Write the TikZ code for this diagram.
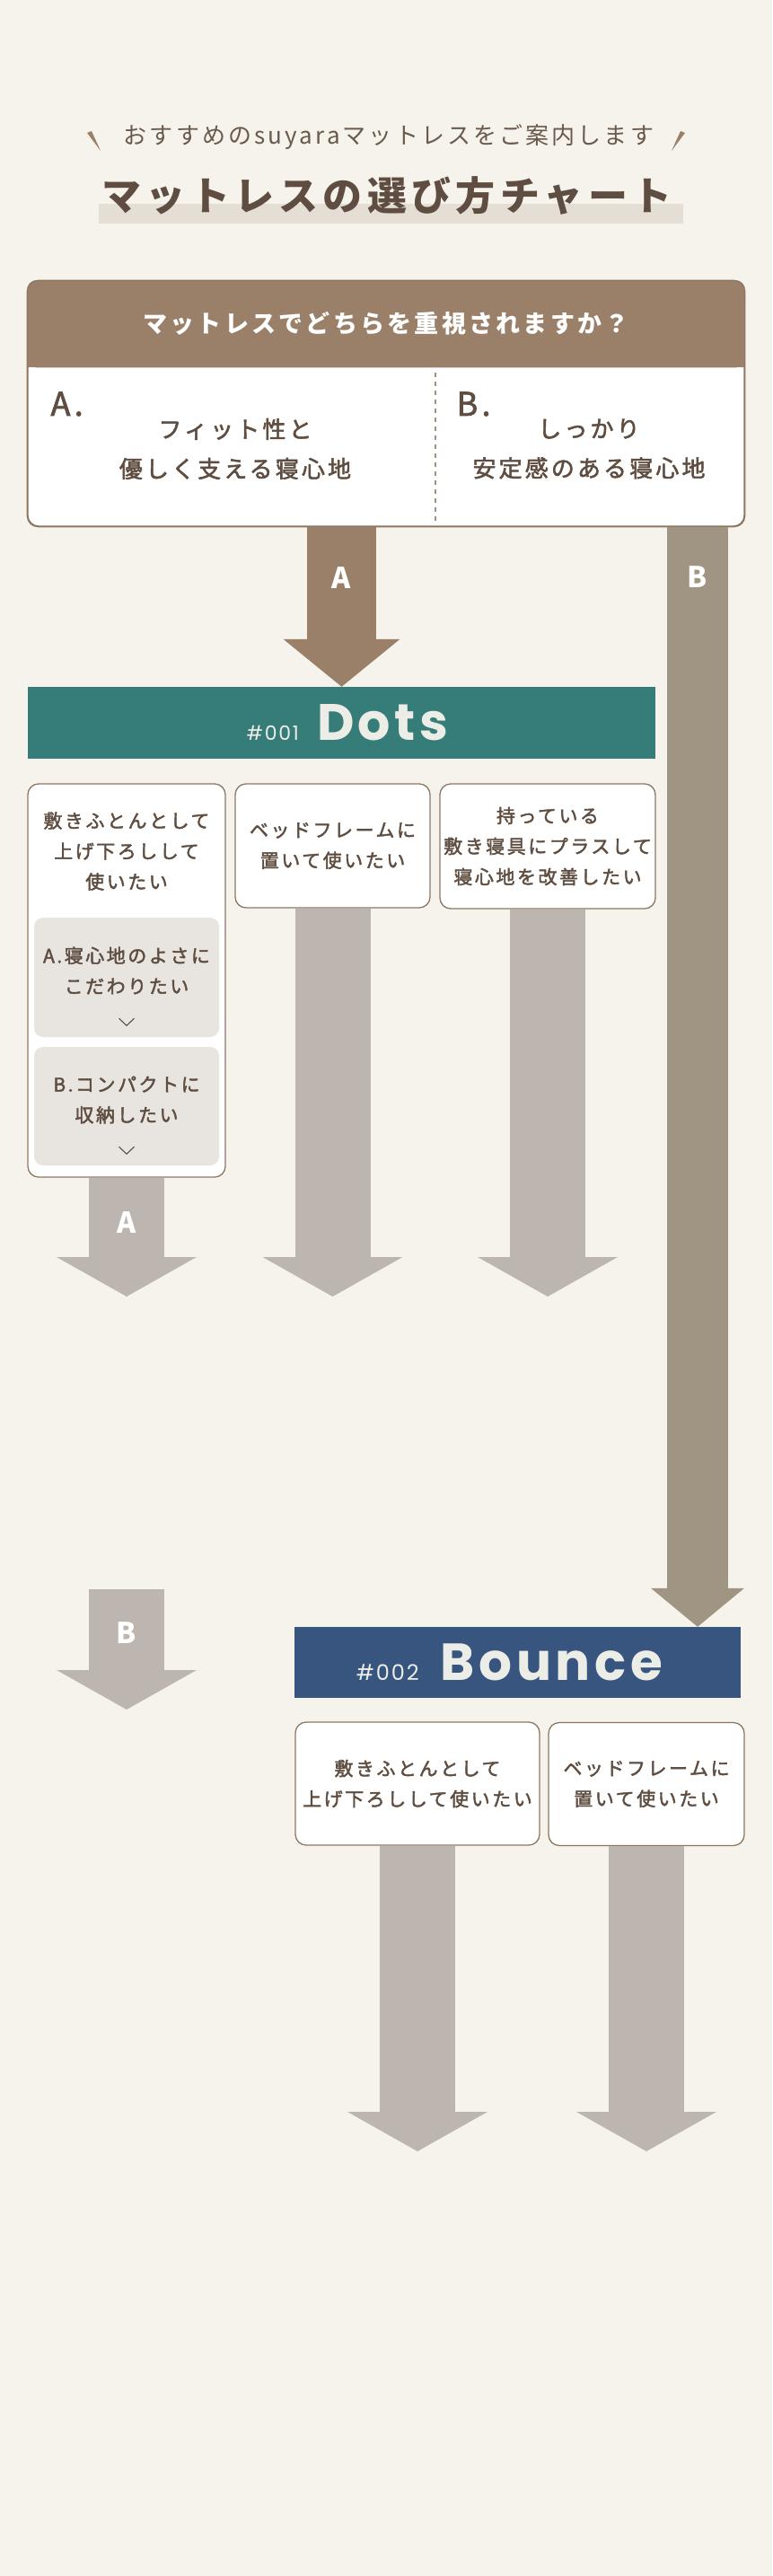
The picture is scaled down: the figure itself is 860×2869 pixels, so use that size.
\documentclass[tikz,border=0pt]{standalone}
\usepackage{fontspec}
\newfontfamily\jp{Noto Sans CJK JP}[LetterSpace=12]
\newfontfamily\jpm{Noto Sans CJK JP}[LetterSpace=12,FakeBold=2]
\newfontfamily\pop{Poppins}[LetterSpace=8]
\usetikzlibrary{arrows.meta,calc}
\definecolor{bgcol}{HTML}{F6F3EC}
\definecolor{txt}{HTML}{5E4D40}
\definecolor{subtxt}{HTML}{6A5A4D}
\definecolor{hilite}{HTML}{E4DED4}
\definecolor{hdrbrown}{HTML}{9A8069}
\definecolor{cardline}{HTML}{8D7763}
\definecolor{divline}{HTML}{A0907F}
\definecolor{barB}{HTML}{A09483}
\definecolor{arrgray}{HTML}{BDB6B0}
\definecolor{subgray}{HTML}{E8E5E1}
\definecolor{teal}{HTML}{367C79}
\definecolor{navy}{HTML}{37557E}
\definecolor{bandtxt}{HTML}{ECEDE6}
\begin{document}
\begin{tikzpicture}[x=1pt,y=-1pt,
    card/.style={draw=cardline, line width=1.3pt, fill=white, rounded corners=12pt, inner sep=0pt, align=center, text=txt, font=\jpm\fontsize{21}{34}\selectfont},
    cardtext/.style={align=center, text=txt, font=\jpm\fontsize{21}{34}\selectfont},
    subbox/.style={fill=subgray, rounded corners=10pt, inner sep=0pt, minimum width=206pt},
    band/.style={inner sep=0pt, text=bandtxt},
    lbl/.style={text=white, font=\jp\bfseries\fontsize{32}{32}\selectfont},
    chev/.style={draw=txt, line width=1.1pt},
    arrA/.style={draw=hdrbrown, line width=77pt, -{Triangle[width=130pt,length=53pt,line width=0pt]}},
    arrB/.style={draw=barB, line width=68pt, -{Triangle[width=104pt,length=43pt,line width=0pt]}},
    arrG/.style={draw=arrgray, line width=84pt, -{Triangle[width=156pt,length=44pt,line width=0pt]}}]

    \fill[bgcol] (0,0) rectangle (860,2869);

    %heading
    \fill[hdrbrown] (97,148) -- (102,146) -- (112,168) -- cycle;
    \fill[hdrbrown] (763,148) -- (758,146) -- (748,168) -- cycle;
    \node[text=subtxt, font=\jp\fontsize{26}{26}\selectfont] (sub) at (433,153) {おすすめのsuyaraマットレスをご案内します};
    \fill[hilite] (110,227) rectangle (761,249);
    \node[text=txt, font=\jp\bfseries\fontsize{44}{44}\selectfont] (title) at (431,218) {マットレスの選び方チャート};

    %question
    \node[card, minimum width=798pt, minimum height=273pt] (q) at (430,449.5) {};
    \fill[hdrbrown, rounded corners=10pt] (q.north west) rectangle ([yshift=-97pt]q.north east);
    \fill[hdrbrown] ([yshift=-50pt]q.north west) rectangle ([yshift=-97pt]q.north east);
    \draw[cardline, line width=1.3pt, rounded corners=12pt] (q.north west) rectangle (q.south east);
    \node[text=white, font=\jp\bfseries\fontsize{27}{27}\selectfont] (qh) at ([yshift=-48pt]q.north) {マットレスでどちらを重視されますか？};
    \draw[divline, line width=1.3pt, dash pattern=on 5pt off 5pt] (485,415) -- (485,582);
    \node[anchor=west, text=txt, font=\jpm\fontsize{36}{36}\selectfont] (qa) at (53,450) {A.};
    \node[cardtext, font=\jpm\fontsize{26}{44}\selectfont] (qta) at (262,500) {フィット性と\\優しく支える寝心地};
    \node[anchor=west, text=txt, font=\jpm\fontsize{36}{36}\selectfont] (qb) at (505,450) {B.};
    \node[cardtext, font=\jpm\fontsize{26}{44}\selectfont] (qtb) at (656,500) {しっかり\\安定感のある寝心地};

    %dots
    \node[band, fill=teal, minimum width=699pt, minimum height=80pt] (dots) at (380.5,805) {};
    \node[band] (dotst) at (387,805)
        {{\pop\fontsize{22}{22}\selectfont\#001}\hspace{20pt}{\pop\bfseries\fontsize{57}{57}\selectfont Dots}};
    \draw[arrA] (q.south -| dots.north) -- (dots.north);
    \node[lbl] (la) at (380,644) {A};

    \node[card, minimum width=220pt, minimum height=438pt] (c1) at (141,1092) {};
    \node[cardtext] (c1t) at (141,948) {敷きふとんとして\\上げ下ろしして\\使いたい};
    \node[subbox, minimum height=133pt] (sa) at (141,1088.5) {};
    \node[cardtext] (sat) at (141,1081) {A.寝心地のよさに\\こだわりたい};
    \draw[chev] ($(sa.south)+(-8.5,-21)$) -- ++(8.5,8) -- ++(8.5,-8);
    \node[subbox, minimum height=132pt] (sb) at (141,1232) {};
    \node[cardtext] (sbt) at (141,1225) {B.コンパクトに\\収納したい};
    \draw[chev] ($(sb.south)+(-8.5,-21)$) -- ++(8.5,8) -- ++(8.5,-8);
    \node[card, minimum width=217pt, minimum height=138pt] (c2) at (370.5,942) {ベッドフレームに\\置いて使いたい};
    \node[card, minimum width=240pt, minimum height=139pt] (c3) at (610,942.5) {持っている\\敷き寝具にプラスして\\寝心地を改善したい};

    \coordinate (tipA) at (0,1444);
    \draw[arrG] (c1.south) -- (c1.south |- tipA);
    \draw[arrG] (c2.south) -- (c2.south |- tipA);
    \draw[arrG] (c3.south) -- (c3.south |- tipA);
    \node[lbl] (la2) at (141,1362) {A};

    \coordinate (bs) at (141,1770);
    \coordinate (be) at (141,1904);
    \draw[arrG] (bs) -- (be);
    \node[lbl] (lb2) at (141,1819) {B};

    %bounce
    \node[band, fill=navy, minimum width=497pt, minimum height=79pt] (bounce) at (576.5,1851.5) {};
    \node[band] (bouncet) at (567.5,1851.5)
        {{\pop\fontsize{24}{24}\selectfont\#002}\hspace{24pt}{\pop\bfseries\fontsize{58}{58}\selectfont Bounce}};
    \coordinate (bcol) at (777,0);
    \draw[arrB] (q.south -| bcol) -- (bounce.north -| bcol);
    \node[lbl] (lb) at (777,643) {B};

    \node[card, minimum width=272pt, minimum height=137pt] (d1) at (465,1986.5) {敷きふとんとして\\上げ下ろしして使いたい};
    \node[card, minimum width=218pt, minimum height=137pt] (d2) at (720,1987) {ベッドフレームに\\置いて使いたい};

    \coordinate (tipD) at (0,2396);
    \draw[arrG] (d1.south) -- (d1.south |- tipD);
    \draw[arrG] (d2.south) -- (d2.south |- tipD);

\end{tikzpicture}
\end{document}
